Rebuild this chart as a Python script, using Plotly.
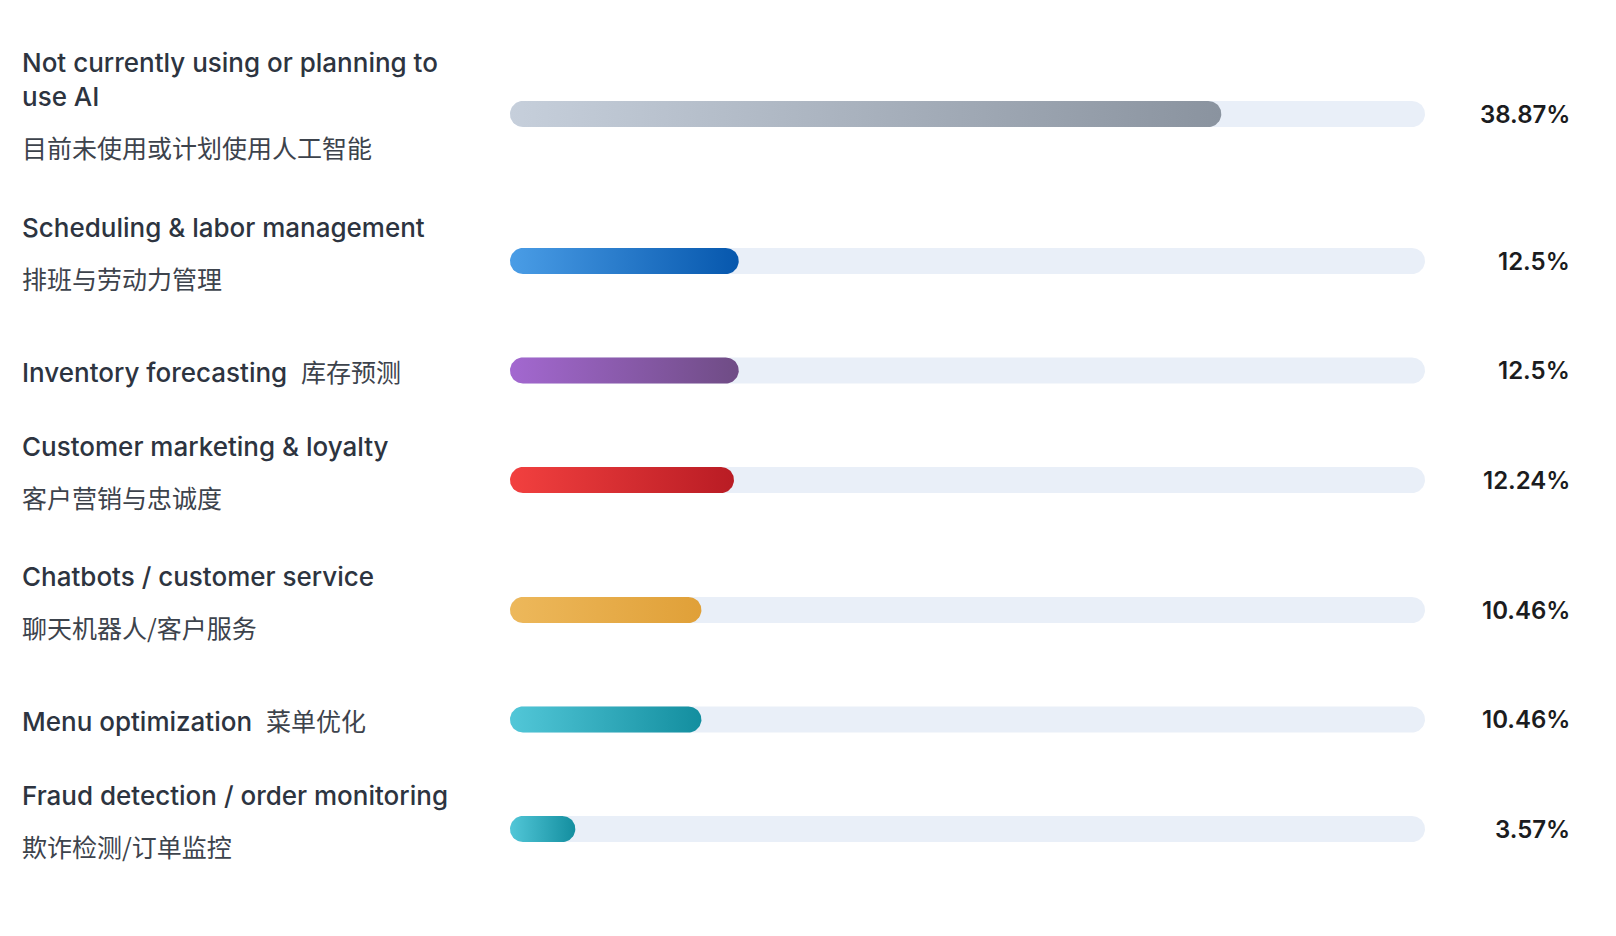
import numpy as np
import plotly.graph_objects as go

# 数据
labels_en = [
    "Not currently using or planning to<br>use AI",
    "Scheduling & labor management",
    "Inventory forecasting",
    "Customer marketing & loyalty",
    "Chatbots / customer service",
    "Menu optimization",
    "Fraud detection / order monitoring",
]
labels_zh = [
    "目前未使用或计划使用人工智能",
    "排班与劳动力管理",
    "库存预测",
    "客户营销与忠诚度",
    "聊天机器人/客户服务",
    "菜单优化",
    "欺诈检测/订单监控",
]
values = [38.87, 12.5, 12.5, 12.24, 10.46, 10.46, 3.57]
value_labels = ["38.87%", "12.5%", "12.5%", "12.24%", "10.46%", "10.46%", "3.57%"]
x_max = 50

# 渐变色 (左 -> 右)
colors_start = ["#C6CFDB", "#4A9DE6", "#A368D0", "#F2403F", "#EDB85B", "#52C7D8", "#52C7D8"]
colors_end = ["#8A939F", "#0657AD", "#6F4C85", "#B91C24", "#E0A038", "#138E9F", "#138E9F"]

# 短标签中英文同一行
inline = [False, False, True, False, False, True, False]

# 版面 (页面 body 有 8px 边距)
W, H = 1616, 936
dom = [502 / W, 1417 / W]
top_px = 24
bar_h = 26
px_per_unit = W * (dom[1] - dom[0]) / x_max
rx = (bar_h / 2) / px_per_unit
ry = bar_h / 2

row_h = {1: 89, 2: 130, 3: 164}
n_lines = [l.count("<br>") + 1 + (0 if inl else 1) for l, inl in zip(labels_en, inline)]
heights = [row_h[n] for n in n_lines]
centers = list(np.cumsum(heights) - np.array(heights) / 2)
total = sum(heights)


def pill(x0, x1, yc, n=30):
    t1 = np.linspace(-np.pi / 2, np.pi / 2, n)
    t2 = np.linspace(np.pi / 2, 3 * np.pi / 2, n)
    xs = np.concatenate([x1 - rx + rx * np.cos(t1), x0 + rx + rx * np.cos(t2), [x1 - rx]])
    ys = np.concatenate([yc + ry * np.sin(t1), yc + ry * np.sin(t2), [yc - ry]])
    return xs, ys


fig = go.Figure()

# 背景轨道
for yc in centers:
    xs, ys = pill(0, x_max, yc)
    fig.add_trace(go.Scatter(x=xs, y=ys, mode="lines", fill="toself", fillcolor="#E9EFF8",
                             line=dict(width=0), hoverinfo="skip", showlegend=False))

# 数值条
for v, yc, c0, c1, en, lab in zip(values, centers, colors_start, colors_end, labels_en, value_labels):
    xs, ys = pill(0, v, yc)
    fig.add_trace(go.Scatter(x=xs, y=ys, mode="lines", fill="toself",
                             fillgradient=dict(type="horizontal", colorscale=[[0, c0], [1, c1]]),
                             line=dict(width=0), name=en.replace("<br>", " "),
                             hoverinfo="text", text=f"{en.replace('<br>', ' ')}: {lab}",
                             showlegend=False))

en_font = dict(family="Inter, Noto Sans CJK SC, sans-serif", size=26, color="#2D3440", weight=500)
zh_font = dict(family="Noto Sans CJK SC, sans-serif", size=25, color="#3D434C")
label_x = 12 / W

for en, zh, yc, inl, lab in zip(labels_en, labels_zh, centers, inline, value_labels):
    if inl:
        fig.add_annotation(x=label_x, xref="paper", y=yc, yref="y", xanchor="left", yanchor="middle",
                           text=f"{en}\u00a0\u00a0<span style='font-family:Noto Sans CJK SC;font-weight:400;color:#3D434C;font-size:25px'>{zh}</span>",
                           showarrow=False, font=en_font, align="left")
    else:
        k = en.count("<br>")
        fig.add_annotation(x=label_x, xref="paper", y=yc - 34 - k, yref="y", xanchor="left", yanchor="middle",
                           text=en, showarrow=False, font=en_font, align="left")
        fig.add_annotation(x=label_x, xref="paper", y=yc + 17 + 16 * k, yref="y", xanchor="left",
                           yanchor="middle", text=zh, showarrow=False, font=zh_font, align="left")
    fig.add_annotation(x=1564 / W, xref="paper", y=yc, yref="y", xanchor="right", yanchor="middle",
                       text=lab, showarrow=False,
                       font=dict(family="Inter, sans-serif", size=24, color="#1B1C20", weight=600))

fig.update_layout(
    width=W, height=H,
    margin=dict(l=0, r=0, t=top_px, b=H - top_px - total),
    paper_bgcolor="white", plot_bgcolor="white",
    xaxis=dict(domain=dom, range=[0, x_max], visible=False, fixedrange=True),
    yaxis=dict(range=[total, 0], visible=False, fixedrange=True),
    hovermode="closest",
)

fig.write_html("out.html")
